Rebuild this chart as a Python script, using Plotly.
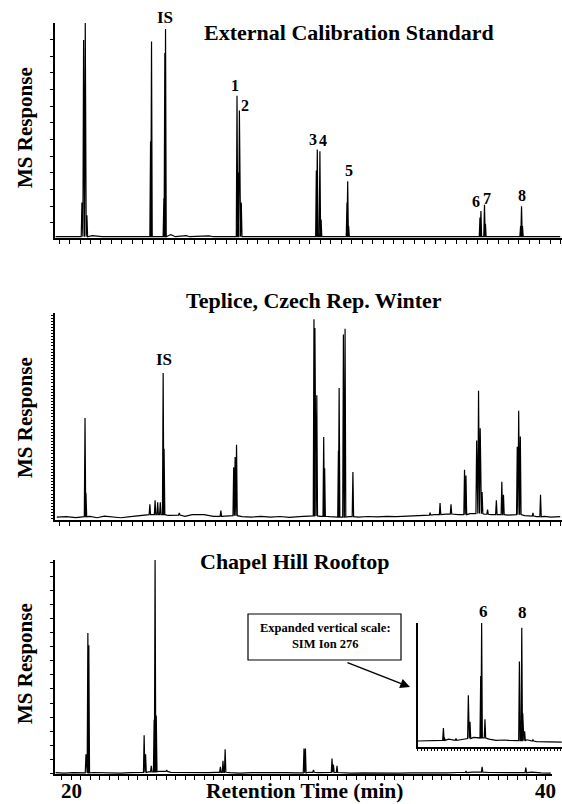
import plotly.graph_objects as go

# ---------------- data (retention time in min, response in % of panel scale) -------------
# Panel 1: External Calibration Standard
cal_peak_rt = [20.46, 20.53, 20.60, 20.67, 23.35, 23.39, 23.91, 23.95, 23.98,
               26.99, 27.04, 27.09, 27.17, 30.33, 30.37, 30.48, 30.53,
               31.62, 31.65, 31.69, 37.22, 37.26, 37.41, 37.45, 38.93, 38.97, 39.01]
cal_peak_height = [16, 92, 100, 10, 44.7, 91.4, 18, 86, 97.2,
                   66, 30, 59, 16, 31, 40.8, 40, 8,
                   16, 26, 5, 9, 12, 15, 6, 5, 14.3, 5]
cal_base_rt = [19.35, 20.2, 20.9, 21.3, 22.5, 23.1, 24.2, 24.4, 24.85, 25.0, 25.8, 26.0,
               27.4, 29.5, 30.8, 31.9, 34.0, 34.2, 36.9, 37.7, 38.7, 39.3, 40.6]
cal_base_level = [0, 0, 0.5, 0, 0, 0, 1, 0, 0.5, 0, 0.4, 0,
                  0, 0, 0, 0, 0.3, 0, 0, 0, 0, 0, 0]
cal_labels = ["IS", "1", "2", "3", "4", "5", "6", "7", "8"]
cal_label_rt = [23.98, 26.99, 27.09, 30.37, 30.48, 31.65, 37.26, 37.41, 38.97]
cal_label_h = [97.2, 66, 59, 40.8, 40, 26, 12, 15, 14.3]

# Panel 2: Teplice, Czech Rep. Winter
tep_peak_rt = [20.59, 20.63, 23.32, 23.54, 23.65, 23.76, 23.88, 23.92, 24.56, 26.31,
               26.85, 26.91, 26.97, 30.23, 30.27, 30.35, 30.64, 30.68, 31.26, 31.29,
               31.47, 31.54, 31.87, 35.12, 35.54, 36.0, 36.57, 36.63, 37.08, 37.16,
               37.23, 37.31, 37.54, 37.91, 38.14, 38.21, 38.79, 38.85, 38.92, 39.45, 39.77]
tep_peak_height = [49, 12.5, 7, 9, 8, 8, 70.8, 34, 2.8, 4,
                   25, 30, 36, 97, 92.7, 60, 39.7, 24.6, 33, 63.5,
                   89.5, 92.4, 22.7, 3, 7.6, 7, 23.8, 21, 38, 62.2,
                   44, 13, 4.4, 9, 18, 11.7, 35, 52.5, 40, 2.8, 11.7]
tep_base_rt = [19.4, 19.8, 20.2, 20.45, 20.8, 21.1, 21.4, 21.8, 22.1, 22.5, 22.9, 23.2,
               24.1, 24.3, 24.8, 25.1, 25.6, 26.0, 26.6, 27.2, 27.6, 28.0, 28.4, 28.8,
               29.2, 29.6, 30.0, 30.5, 30.9, 31.1, 31.7, 32.1, 32.5, 32.9, 33.3, 33.7,
               34.1, 34.5, 34.9, 35.3, 35.8, 36.3, 36.8, 37.4, 37.7, 38.4, 38.6, 39.1,
               39.3, 39.6, 39.95, 40.2, 40.6]
tep_base_level = [0.8, 1.0, 0.6, 1.0, 1.2, 0.5, 1.3, 0.9, 0.5, 1.0, 1.4, 2.0,
                  1.6, 1.8, 1.2, 2.0, 2.0, 1.2, 1.5, 1.0, 0.8, 1.2, 0.8, 1.1,
                  0.7, 1.0, 1.4, 1.2, 1.0, 0.8, 1.0, 0.8, 1.1, 0.9, 1.2, 1.0,
                  1.3, 1.5, 1.8, 2.0, 2.3, 2.0, 2.5, 2.2, 2.0, 1.8, 2.0, 1.5,
                  1.3, 1.0, 1.2, 0.8, 1.0]
tep_is_rt, tep_is_h = 23.88, 70.8

# Panel 3: Chapel Hill Rooftop
chr_peak_rt = [20.63, 20.71, 20.75, 23.08, 23.14, 23.38, 23.50, 23.54, 23.59, 24.03,
               26.29, 26.40, 26.49, 29.81, 29.87, 30.21, 30.99, 31.05, 31.20,
               36.63, 37.31, 39.15]
chr_peak_height = [8.9, 65.7, 60, 17.8, 8.9, 3.4, 25, 101, 27, 1.5,
                   3, 5.8, 11.2, 11.5, 11.5, 1.5, 6.9, 4, 3.4,
                   1, 3, 2.6]
chr_base_rt = [19.35, 19.7, 20.1, 20.45, 20.95, 21.3, 21.7, 22.1, 22.5, 22.9, 23.25,
               23.7, 24.2, 24.6, 25.0, 25.4, 25.8, 26.1, 26.7, 27.1, 27.6, 28.0, 28.5,
               29.0, 29.5, 30.0, 30.4, 30.7, 31.4, 31.8, 32.3, 32.8, 33.3, 33.8, 34.3,
               34.8, 35.3, 35.8, 36.3, 36.9, 37.6, 38.1, 38.6, 39.4, 39.8, 40.2]
chr_base_level = [0.2, 0.0, 0.2, 0.1, 0.3, 0.1, 0.2, 0.0, 0.2, 0.3, 0.6,
                  0.8, 0.4, 0.3, 0.2, 0.1, 0.2, 0.4, 0.2, 0.0, 0.2, 0.1, 0.0,
                  0.2, 0.1, 0.4, 0.2, 0.3, 0.2, 0.0, 0.1, 0.0, 0.1, 0.0, 0.1,
                  0.0, 0.2, 0.1, 0.3, 0.5, 0.3, 0.1, 0.2, 0.5, 0.1, 0.0]
chr_is_rt, chr_is_h = 23.54, 101

# Inset: SIM ion 276 (expanded vertical scale)
sim_peak_rt = [35.68, 35.72, 36.21, 36.73, 36.80, 37.25, 37.29, 37.43, 38.23,
               38.88, 38.98, 39.02, 39.10, 39.45, 39.86]
sim_peak_height = [12.7, 5, 4, 40, 18, 56, 100, 20, 3,
                   68, 96, 25, 10, 3, 1.5]
sim_base_rt = [34.6, 35.0, 35.4, 35.9, 36.1, 36.4, 36.6, 36.95, 37.1, 37.6, 37.9,
               38.1, 38.4, 38.7, 39.2, 39.35, 39.6, 40.0, 40.3, 40.66]
sim_base_level = [2, 2.2, 2.5, 3.5, 2.5, 3, 4, 5, 4.5, 3.5, 2.5,
                  2.8, 2.5, 2.3, 3, 2, 1.5, 1.2, 1, 1]
sim_labels = ["6", "8"]
sim_label_rt = [37.29, 38.98]
sim_label_h = [100, 96]

x_tick_labels = ["20", "40"]
x_tick_values = [20, 40]


# ---------------- helpers -------------
def chromatogram(base_rt, base_lvl, peak_rt, peak_h, half_width=0.03):
    events = sorted([(t, 0, v) for t, v in zip(base_rt, base_lvl)] +
                    [(t, 1, v) for t, v in zip(peak_rt, peak_h)])
    xs, ys = [], []
    level = base_lvl[0]
    for t, kind, v in events:
        if kind == 0:
            level = v
            xs.append(t)
            ys.append(v)
        else:
            xs += [t - half_width, t, t + half_width]
            ys += [level, v, level]
    return xs, ys


W, H = 562, 804
SERIF = "Liberation Serif, Times New Roman, serif"
LINE = dict(color="black", width=1.2)

fig = go.Figure()
for (brt, blv, prt, ph, xa, ya) in [
    (cal_base_rt, cal_base_level, cal_peak_rt, cal_peak_height, "x", "y"),
    (tep_base_rt, tep_base_level, tep_peak_rt, tep_peak_height, "x2", "y2"),
    (chr_base_rt, chr_base_level, chr_peak_rt, chr_peak_height, "x3", "y3"),
    (sim_base_rt, sim_base_level, sim_peak_rt, sim_peak_height, "x4", "y4"),
]:
    xs, ys = chromatogram(brt, blv, prt, ph)
    fig.add_trace(go.Scatter(x=xs, y=ys, mode="lines", line=LINE, xaxis=xa, yaxis=ya,
                             hoverinfo="skip", showlegend=False))


def px_x(p):
    return p / W


def px_y(p):
    return 1 - p / H


axis_common = dict(showline=True, linecolor="black", linewidth=1.5, showgrid=False,
                   zeroline=False, showticklabels=False, ticks="outside",
                   tickcolor="black", tickwidth=1)

fig.update_layout(
    width=W, height=H, margin=dict(l=0, r=0, t=0, b=0),
    paper_bgcolor="white", plot_bgcolor="white", showlegend=False,
    font=dict(family=SERIF, color="black"),
    xaxis=dict(axis_common, domain=[px_x(55), 1], range=[19.326, 40.674], anchor="y",
               tick0=19.5, dtick=0.44, ticklen=4),
    yaxis=dict(axis_common, domain=[px_y(238), px_y(23)], range=[-0.6, 100], anchor="x",
               tick0=6.5, dtick=7.8, ticklen=3),
    xaxis2=dict(axis_common, domain=[px_x(55), 1], range=[19.326, 40.674], anchor="y2",
                tick0=19.5, dtick=0.44, ticklen=4),
    yaxis2=dict(axis_common, domain=[px_y(520), px_y(313)], range=[-0.6, 100], anchor="x2",
                tick0=0, dtick=1.5, ticklen=2),
    xaxis3=dict(axis_common, domain=[px_x(55), px_x(552)], range=[19.326, 40.253], anchor="y3",
                tick0=20, dtick=0.4, ticklen=4),
    yaxis3=dict(axis_common, domain=[px_y(774), px_y(560)], range=[-0.4, 100], anchor="x3",
                tick0=6.5, dtick=6.6, ticklen=3),
    xaxis4=dict(axis_common, domain=[px_x(417.5), 1], range=[34.589, 40.674], anchor="y4",
                tick0=34.6, dtick=0.14, ticklen=2),
    yaxis4=dict(axis_common, domain=[px_y(747), px_y(623)], range=[-3, 100], anchor="x4",
                ticks=""),
)

ann = []
bold = dict(family=SERIF, color="black", weight="bold")

# panel titles
for txt, xc, yc in [("External Calibration Standard", 349, 33),
                    ("Teplice, Czech Rep. Winter", 314, 300),
                    ("Chapel Hill Rooftop", 294, 561)]:
    ann.append(dict(text=txt, x=px_x(xc), y=px_y(yc), xref="paper", yref="paper",
                    showarrow=False, font=dict(bold, size=22), xanchor="center", yanchor="middle"))

# y-axis titles
for yc in [128, 418, 664]:
    ann.append(dict(text="MS Response", x=px_x(25), y=px_y(yc), xref="paper", yref="paper",
                    showarrow=False, textangle=-90, font=dict(bold, size=21),
                    xanchor="center", yanchor="middle"))

# x-axis title and tick labels
ann.append(dict(text="Retention Time (min)", x=px_x(304), y=px_y(791), xref="paper", yref="paper",
                showarrow=False, font=dict(bold, size=21.5), xanchor="center", yanchor="middle"))
for lab, v in zip(x_tick_labels, x_tick_values):
    ann.append(dict(text=lab, x=v, y=px_y(791), xref="x3", yref="paper", showarrow=False,
                    font=dict(bold, size=21), xanchor="center", yanchor="middle"))

# peak labels, panel 1
cal_shift = {"IS": (-1, 0), "1": (-2, 0), "2": (6, -5), "3": (-4, 0), "4": (3, 0),
             "5": (1, 0), "6": (-5, -1), "7": (3, -4), "8": (0, 0)}
for lab, t, h in zip(cal_labels, cal_label_rt, cal_label_h):
    dx, dy = cal_shift[lab]
    ann.append(dict(text=lab, x=t, y=h, xref="x", yref="y", showarrow=False,
                    font=dict(bold, size=17 if lab == "IS" else 16),
                    xanchor="center", yanchor="bottom", xshift=dx, yshift=dy))

ann.append(dict(text="IS", x=tep_is_rt, y=tep_is_h, xref="x2", yref="y2", showarrow=False,
                font=dict(bold, size=17), xanchor="center", yanchor="bottom", xshift=1, yshift=2))
ann.append(dict(text="IS", x=chr_is_rt, y=chr_is_h, xref="x3", yref="y3", showarrow=False,
                font=dict(bold, size=17), xanchor="center", yanchor="bottom", xshift=7, yshift=2))

for lab, t, h in zip(sim_labels, sim_label_rt, sim_label_h):
    ann.append(dict(text=lab, x=t, y=h, xref="x4", yref="y4", showarrow=False,
                    font=dict(bold, size=17), xanchor="center", yanchor="bottom",
                    xshift=2 if lab == "6" else 1, yshift=0 if lab == "6" else 4))

# callout box text + arrow
ann.append(dict(text="Expanded vertical scale:<br>SIM Ion 276", x=px_x(325), y=px_y(636),
                xref="paper", yref="paper", showarrow=False, font=dict(bold, size=12.5),
                align="center", xanchor="center", yanchor="middle"))
ann.append(dict(text="", x=px_x(410), y=px_y(687), xref="paper", yref="paper",
                showarrow=True, ax=-64, ay=-25, arrowhead=2, arrowsize=1.3,
                arrowwidth=1.5, arrowcolor="black"))

fig.update_layout(annotations=ann)
fig.add_shape(type="rect", xref="paper", yref="paper", x0=px_x(248), x1=px_x(401),
              y0=px_y(660), y1=px_y(614), line=dict(color="black", width=1.2),
              fillcolor="white", layer="below")

fig.write_html("out.html", config={"displayModeBar": False},
               post_script="document.body.style.margin='0';document.body.style.overflow='hidden';")
